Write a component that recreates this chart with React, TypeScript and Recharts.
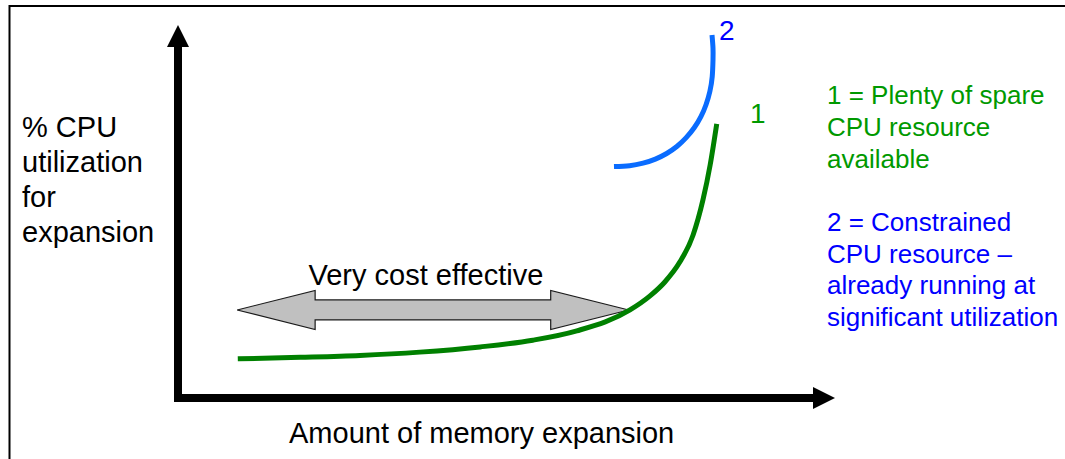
import React from "react";
import { LineChart, Line, XAxis, YAxis, ReferenceLine, ReferenceDot } from "recharts";

// Conceptual axes: 0..100 along each axis (percent of axis length)
const curve1 = [
  { x: 9.1, y: 10.5 },
  { x: 18.6, y: 10.9 },
  { x: 27.7, y: 11.4 },
  { x: 36.8, y: 12.3 },
  { x: 46.0, y: 13.7 },
  { x: 54.0, y: 15.5 },
  { x: 60.7, y: 18.0 },
  { x: 68.8, y: 23.6 },
  { x: 71.8, y: 27.3 },
  { x: 74.1, y: 31.1 },
  { x: 76.4, y: 36.5 },
  { x: 78.4, y: 43.7 },
  { x: 79.9, y: 53.1 },
  { x: 81.0, y: 62.5 },
  { x: 82.0, y: 73.5 },
];

const curve2 = [
  { x: 81.28, y: 97.32 },
  { x: 81.43, y: 93.83 },
  { x: 81.43, y: 90.62 },
  { x: 81.31, y: 86.14 },
  { x: 80.96, y: 82.25 },
  { x: 80.38, y: 78.69 },
  { x: 79.59, y: 75.42 },
  { x: 78.57, y: 72.44 },
  { x: 77.35, y: 69.79 },
  { x: 75.97, y: 67.48 },
  { x: 74.38, y: 65.55 },
  { x: 72.66, y: 64.05 },
  { x: 70.78, y: 62.95 },
  { x: 68.74, y: 62.28 },
  { x: 66.36, y: 62.06 },
];

const effectiveRange = { from: 9.0, to: 68.6, level: 23.6 };
const axisEnds = { xShaftEnd: 96.7, yShaftEnd: 94.1 };

const yLabelLines = ["% CPU", "utilization", "for", "expansion"];
const xLabel = "Amount of memory expansion";
const rangeLabel = "Very cost effective";
const legend1 = ["1 = Plenty of spare", "CPU resource", "available"];
const legend2 = ["2 = Constrained", "CPU resource \u2013", "already running at", "significant utilization"];

const FONT = "'Liberation Sans', Arial, Helvetica, sans-serif";
const GREEN_TEXT = "#009900";
const BLUE_TEXT = "#0000ff";

const UpArrowHead = (props: any) => {
  const { cx, cy } = props;
  return <polygon points={`${cx},${cy} ${cx - 11},${cy + 22} ${cx + 11},${cy + 22}`} fill="#000" />;
};
const RightArrowHead = (props: any) => {
  const { cx, cy } = props;
  return <polygon points={`${cx},${cy} ${cx - 22},${cy - 11} ${cx - 22},${cy + 11}`} fill="#000" />;
};

const DoubleArrow = (props: any) => {
  const { x1, y1, x2 } = props;
  const y = y1;
  const hl = 78;
  const hh = 19.5;
  const sh = 10;
  const pts = [
    [x1, y],
    [x1 + hl, y - hh],
    [x1 + hl, y - sh],
    [x2 - hl, y - sh],
    [x2 - hl, y - hh],
    [x2, y],
    [x2 - hl, y + hh],
    [x2 - hl, y + sh],
    [x1 + hl, y + sh],
    [x1 + hl, y + hh],
  ]
    .map((p) => p.join(","))
    .join(" ");
  return (
    <g>
      <polygon points={pts} fill="#c0c0c0" stroke="#1a1a1a" strokeWidth={1.2} />
      <text x={(x1 + x2) / 2 - 7} y={y - 25} textAnchor="middle" fontFamily={FONT} fontSize={29} fill="#000">
        {rangeLabel}
      </text>
    </g>
  );
};

export default function App() {
  return (
    <div style={{ position: "absolute", left: 0, top: 0, width: 1065, height: 459, background: "#fff" }}>
      <LineChart width={1065} height={459} margin={{ top: 25, right: 230, bottom: 61, left: 178 }}>
        <XAxis type="number" dataKey="x" domain={[0, 100]} hide allowDataOverflow />
        <YAxis type="number" dataKey="y" domain={[0, 100]} hide allowDataOverflow />
        <rect x={9.5} y={6} width={1100} height={500} fill="none" stroke="#000" strokeWidth={2} />
        <ReferenceLine
          segment={[{ x: 0, y: 0 }, { x: axisEnds.xShaftEnd, y: 0 }]}
          stroke="#000"
          strokeWidth={8}
          strokeLinecap="square"
          ifOverflow="visible"
        />
        <ReferenceLine
          segment={[{ x: 0, y: 0 }, { x: 0, y: axisEnds.yShaftEnd }]}
          stroke="#000"
          strokeWidth={8}
          strokeLinecap="square"
          ifOverflow="visible"
        />
        <ReferenceDot x={0} y={100} r={1} shape={UpArrowHead} ifOverflow="visible" />
        <ReferenceDot x={100} y={0} r={1} shape={RightArrowHead} ifOverflow="visible" />
        <ReferenceLine
          segment={[
            { x: effectiveRange.from, y: effectiveRange.level },
            { x: effectiveRange.to, y: effectiveRange.level },
          ]}
          shape={DoubleArrow}
          ifOverflow="visible"
        />
        <Line
          data={curve1}
          dataKey="y"
          type="monotoneX"
          stroke="#008000"
          strokeWidth={5}
          dot={false}
          isAnimationActive={false}
        />
        <Line
          data={curve2}
          dataKey="y"
          type="natural"
          stroke="#0a6cff"
          strokeWidth={5}
          dot={false}
          isAnimationActive={false}
        />
        <g fontFamily={FONT}>
          {yLabelLines.map((t, i) => (
            <text key={t} x={22} y={137 + i * 35} fontSize={29} fill="#000">
              {t}
            </text>
          ))}
          <text x={289} y={443} fontSize={29} fill="#000">
            {xLabel}
          </text>
          <text x={719} y={40} fontSize={28} fill={BLUE_TEXT}>
            2
          </text>
          <text x={750} y={123} fontSize={28} fill={GREEN_TEXT}>
            1
          </text>
          {legend1.map((t, i) => (
            <text key={t} x={827} y={104 + i * 32} fontSize={26} fill={GREEN_TEXT}>
              {t}
            </text>
          ))}
          {legend2.map((t, i) => (
            <text key={t} x={827} y={231 + i * 31.7} fontSize={26} fill={BLUE_TEXT}>
              {t}
            </text>
          ))}
        </g>
      </LineChart>
    </div>
  );
}
